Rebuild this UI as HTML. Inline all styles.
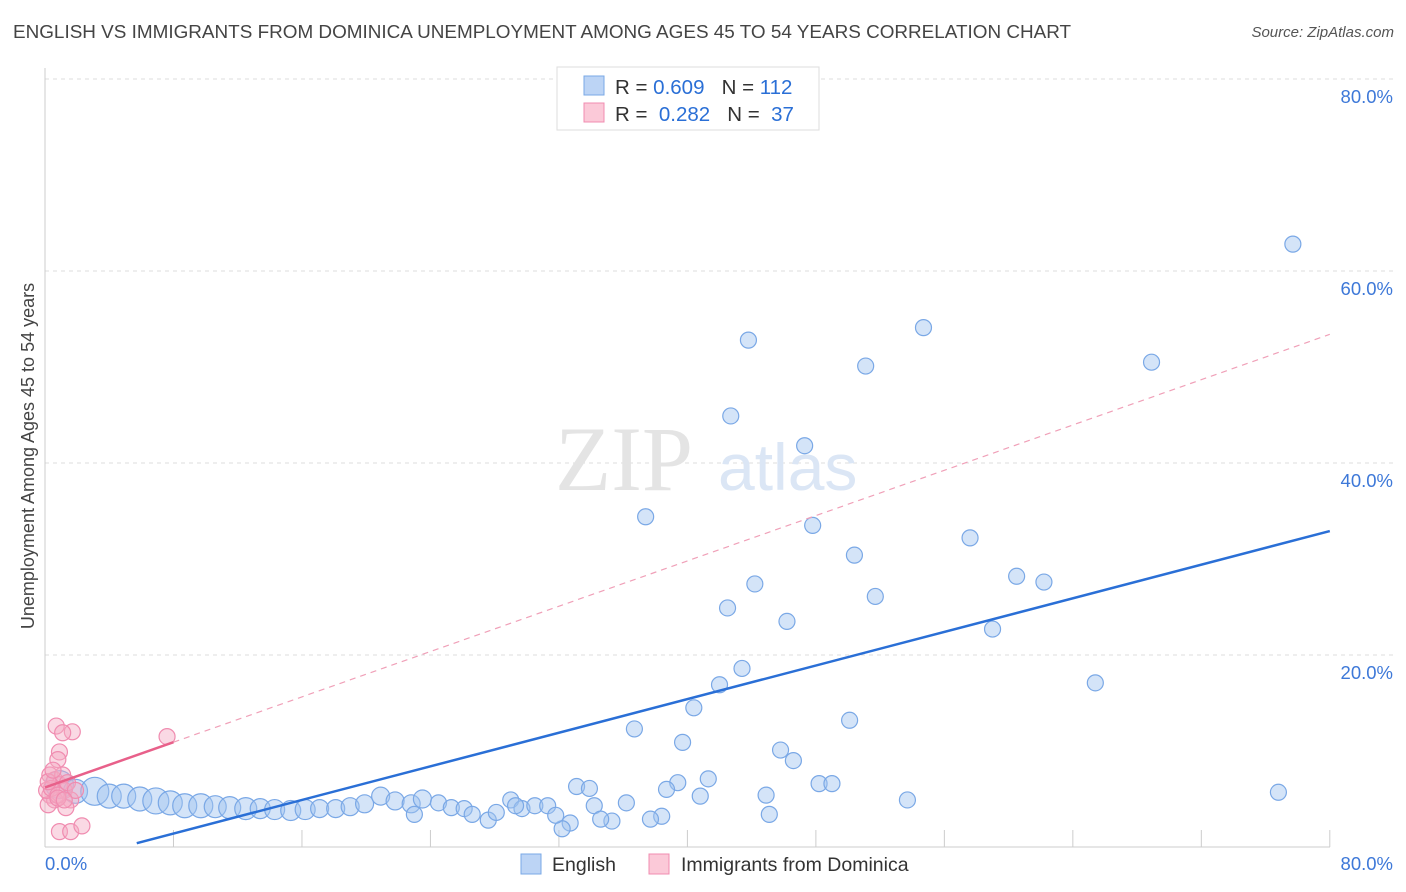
<!DOCTYPE html>
<html><head><meta charset="utf-8">
<style>
body{margin:0;background:#fff;font-family:"Liberation Sans",sans-serif;}
#title{position:absolute;left:13px;top:22px;font-size:18.9px;color:#444;}
#source{position:absolute;right:12px;top:24px;font-size:15px;color:#555;font-style:italic;}
</style></head><body>
<div id="title">ENGLISH VS IMMIGRANTS FROM DOMINICA UNEMPLOYMENT AMONG AGES 45 TO 54 YEARS CORRELATION CHART</div>
<div id="source">Source: ZipAtlas.com</div>
<svg id="chart" width="1406" height="892" style="position:absolute;left:0;top:0"></svg>
<script>
const yTicks=[20,40,60,80];
const yTickLabels=["20.0%","40.0%","60.0%","80.0%"];
const englishX=[77.7,54.7,43.8,51.1,68.9,42.7,47.3,37.4,47.8,57.6,50.4,60.5,62.2,44.2,51.7,42.5,46.2,59.0,43.4,42.0,65.4,40.4,50.1,36.7,39.7,45.8,46.6,41.3,39.4,33.1,33.9,38.7,48.2,49.0,76.8,40.8,44.9,53.7,36.2,34.2,45.1,38.4,37.7,35.3,34.6,32.7,32.2,
0.9,1.9,3.1,4.0,4.9,5.9,6.9,7.8,8.7,9.7,10.6,11.5,12.5,13.4,14.3,15.3,16.2,17.1,18.1,19.0,19.9,20.9,21.8,22.8,23.5,24.5,25.3,26.1,26.6,27.6,28.1,29.0,29.7,30.5,31.3,31.8,23.0,29.3];
const englishY=[62.8,54.1,52.8,50.1,50.5,44.9,41.8,34.4,33.5,32.2,30.4,28.2,27.6,27.4,26.1,24.9,23.5,22.7,18.6,16.9,17.1,14.5,13.2,12.3,10.9,10.1,9.0,7.1,6.7,6.3,6.1,6.0,6.6,6.6,5.7,5.3,5.4,4.9,4.6,4.3,3.4,3.2,2.9,2.7,2.9,2.5,1.9,
6.5,5.8,5.8,5.3,5.3,5.0,4.8,4.6,4.3,4.3,4.2,4.1,4.0,4.0,3.9,3.8,3.9,4.0,4.0,4.2,4.5,5.3,4.8,4.5,5.0,4.6,4.1,4.0,3.4,2.8,3.6,4.9,4.0,4.3,4.3,3.3,3.4,4.3];
const englishR=[8,8,8,8,8,8,8,8,8,8,8,8,8,8,8,8,8,8,8,8,8,8,8,8,8,8,8,8,8,8,8,8,8,8,8,8,8,8,8,8,8,8,8,8,8,8,8,
14,12,14,12,12,12,13,12,12,12,11,11,11,10,10,10,10,9,9,9,9,9,9,9,9,8,8,8,8,8,8,8,8,8,8,8,8,8];
const dominicaX=[0.7,0.9,1.7,0.8,1.1,0.3,0.6,0.9,1.2,0.3,0.6,0.2,1.6,1.3,0.9,1.6,2.3,0.1,0.4,0.8,1.1,1.4,1.9,0.2,0.5,0.8,1.2,7.6];
const dominicaY=[12.6,9.9,12.0,9.1,11.9,7.5,7.0,6.5,5.9,5.4,4.9,4.4,4.9,4.1,1.6,1.6,2.2,5.9,6.1,5.4,7.5,6.7,5.9,6.8,8.0,5.1,4.9,11.5];
const englishLine=[-2.1,0.4376];
const dominicaLine=[6.2,0.59];

const svg=document.getElementById('chart');const NS='http://www.w3.org/2000/svg';
const X=v=>45+v*16.06, Y=v=>847-v*9.6;
function mk(t,a,p){const e=document.createElementNS(NS,t);for(const k in a)e.setAttribute(k,a[k]);(p||svg).appendChild(e);return e;}
yTicks.forEach((t,i)=>{
 const g=mk('line',{x1:45,x2:1393,y1:Y(t),y2:Y(t),stroke:'#ddd','stroke-dasharray':'4,4'});
 
 
 const l=mk('text',{x:1393,y:Y(t)+24,'text-anchor':'end','font-size':18.5,fill:'#3d78d8'});l.textContent=yTickLabels[i];
 
 
});
mk('line',{x1:45,x2:45,y1:68,y2:847,stroke:'#ccc'});
mk('line',{x1:45,x2:1330,y1:847,y2:847,stroke:'#ccc'});
for(let i=0;i<=10;i++){const t=mk('line',{x1:X(i*8),x2:X(i*8),y1:830,y2:847,stroke:'#ccc'});
 
 }
const xl=mk('text',{x:45,y:870,'font-size':18.5,fill:'#3d78d8'});xl.textContent='0.0%';


const xr=mk('text',{x:1393,y:870,'font-size':18.5,fill:'#3d78d8','text-anchor':'end'});xr.textContent='80.0%';


const yt=mk('text',{x:34,y:456,'font-size':18,fill:'#444','text-anchor':'middle',transform:'rotate(-90 34 456)'});yt.textContent='Unemployment Among Ages 45 to 54 years';


const w1=mk('text',{x:555,y:490,'font-size':92,fill:'#e4e4e4','font-family':'Liberation Serif'});w1.textContent='ZIP';


const w2=mk('text',{x:718,y:490,'font-size':66,fill:'#dbe6f5'});w2.textContent='atlas';


englishX.forEach((x,i)=>{const c=mk('circle',{cx:X(x),cy:Y(englishY[i]),r:englishR[i],fill:'rgba(160,195,240,0.45)',stroke:'#7aa8e6','stroke-width':1.2});
 
 });
dominicaX.forEach((x,i)=>{const c=mk('circle',{cx:X(x),cy:Y(dominicaY[i]),r:8,fill:'rgba(245,170,195,0.45)',stroke:'#f08cb0','stroke-width':1.2});
 
 });
const x0=(0.4-englishLine[0])/englishLine[1];
const bl=mk('line',{x1:X(x0),y1:Y(englishLine[0]+englishLine[1]*x0),x2:X(80),y2:Y(englishLine[0]+englishLine[1]*80),stroke:'#2a6fd6','stroke-width':2.5});


const pd=mk('line',{x1:X(8),y1:Y(dominicaLine[0]+dominicaLine[1]*8),x2:X(80),y2:Y(dominicaLine[0]+dominicaLine[1]*80),stroke:'#f0a0b8','stroke-width':1.2,'stroke-dasharray':'6,5'});


const ps=mk('line',{x1:X(0),y1:Y(dominicaLine[0]),x2:X(8),y2:Y(dominicaLine[0]+dominicaLine[1]*8),stroke:'#e8608a','stroke-width':2.5});


const lg=mk('g',{});


mk('rect',{x:557,y:67,width:262,height:63,fill:'#fff',stroke:'#ddd'},lg);
mk('rect',{x:584,y:76,width:20,height:19,fill:'#bcd4f5',stroke:'#7aa8e6'},lg);
mk('rect',{x:584,y:103,width:20,height:19,fill:'#fbc9d8',stroke:'#f08cb0'},lg);
[[94,'0.609','112'],[121,'0.282','37']].forEach((r,i)=>{
 const t=mk('text',{x:615,y:r[0],'font-size':20.5,fill:'#333'},lg);
 t.innerHTML='R = <tspan fill="#2a6fd6">'+(i?' ':'')+r[1]+'</tspan>   N = <tspan fill="#2a6fd6">'+(i?' ':'')+r[2]+'</tspan>';
 t.setAttribute('xml:space','preserve');t.setAttribute('style','white-space:pre');
 
 
});
mk('rect',{x:521,y:854,width:20,height:20,fill:'#bcd4f5',stroke:'#7aa8e6'});
const le=mk('text',{x:552,y:871,'font-size':19.5,fill:'#333'});le.textContent='English';


mk('rect',{x:649,y:854,width:20,height:20,fill:'#fbc9d8',stroke:'#f08cb0'});
const ld=mk('text',{x:681,y:871,'font-size':19.5,fill:'#333'});ld.textContent='Immigrants from Dominica';


</script>
</body></html>
